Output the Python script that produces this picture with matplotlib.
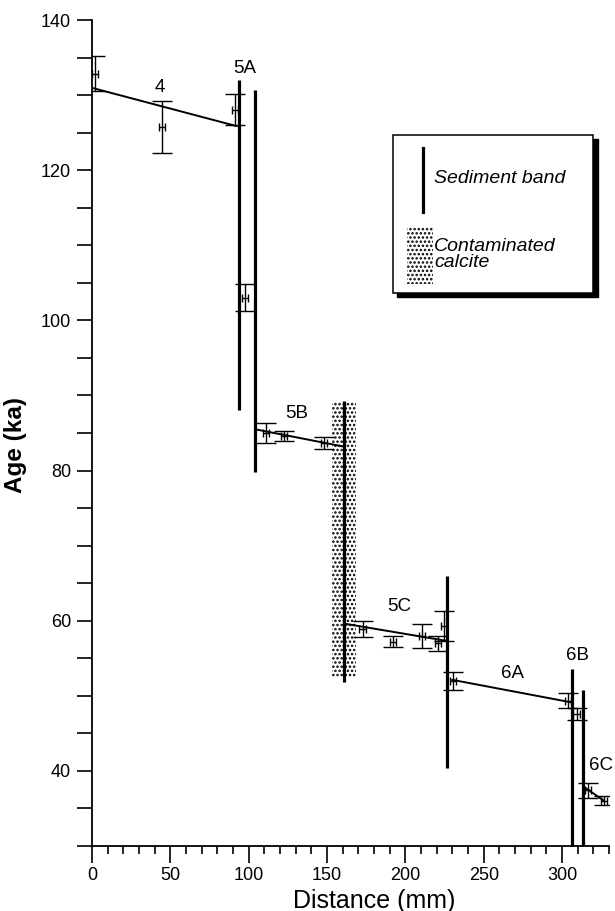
"""
Age vs distance along the speleothem, with sediment bands
and the contaminated calcite zone.
"""

import matplotlib

matplotlib.use("Agg")
import matplotlib.pyplot as plt
from matplotlib.patches import Rectangle
from matplotlib.ticker import MultipleLocator

plt.rcParams["font.family"] = ["Liberation Sans", "DejaVu Sans"]
plt.rcParams["hatch.linewidth"] = 1.2

# dated samples: distance (mm), age (ka), age error, distance error
dist = [2, 44.5, 91.3, 97.6, 111, 122.5, 148, 172.7, 192.3, 210.4, 221, 224.6,
        230.6, 303.6, 309.3, 316.7, 326.7]
age = [132.9, 125.8, 128.1, 103.0, 85.0, 84.6, 83.7, 58.9, 57.2, 58.0, 57.0, 59.3,
       52.0, 49.3, 47.6, 37.4, 36.0]
age_err = [2.3, 3.5, 2.1, 1.8, 1.3, 0.6, 0.8, 1.1, 0.7, 1.6, 1.0, 2.0,
           1.2, 1.0, 0.8, 1.0, 0.6]
dist_err = [2] * len(dist)

# growth-rate fits per growth phase: (x0, y0, x1, y1)
fit_x0 = [0, 104, 160.8, 230, 315.6]
fit_y0 = [131.0, 85.5, 59.6, 52.1, 37.6]
fit_x1 = [92.3, 160.4, 226.3, 306, 326.7]
fit_y1 = [125.9, 83.2, 57.3, 49.1, 36.0]

# sediment bands: distance, top age, bottom age
band_x = [93.8, 104, 160.8, 226.3, 306.3, 313.6]
band_top = [132.1, 130.7, 89.3, 65.9, 53.6, 50.7]
band_bot = [88.0, 79.8, 51.8, 40.4, 30, 30]

# contaminated calcite zone
calc_x = [153, 168.5]
calc_y = [52.5, 89.1]

# growth phase labels
phase_names = ["4", "5A", "5B", "5C", "6A", "6B", "6C"]
phase_x = [43.4, 97.6, 130.6, 196, 268.5, 310, 325]
phase_y = [131.0, 133.6, 87.6, 61.9, 52.9, 55.4, 40.7]

fig = plt.figure(figsize=(6.15, 9.11), dpi=100)
ax = fig.add_axes([0.1496, 0.0717, 0.8407, 0.906])

ax.set_xlim(0, 330)
ax.set_ylim(30, 140)
ax.spines["top"].set_visible(False)
ax.spines["right"].set_visible(False)
ax.spines["left"].set_linewidth(1.3)
ax.spines["bottom"].set_linewidth(1.3)

# contaminated calcite (stippled)
ax.add_patch(Rectangle((calc_x[0], calc_y[0]), calc_x[1] - calc_x[0], calc_y[1] - calc_y[0],
                       facecolor="white", edgecolor="black", lw=0, hatch="....", zorder=1))

# sediment bands
ax.vlines(band_x, band_bot, band_top, colors="black", lw=2.3, zorder=3, clip_on=False)

# fitted lines
for x0, y0, x1, y1 in zip(fit_x0, fit_y0, fit_x1, fit_y1):
    ax.plot([x0, x1], [y0, y1], color="black", lw=1.4, zorder=4)

# samples with error bars
ax.errorbar(dist, age, yerr=age_err, fmt="none", ecolor="black", elinewidth=1.0,
            capsize=7, capthick=1.0, zorder=5)
ax.errorbar(dist, age, xerr=dist_err, fmt="none", ecolor="black", elinewidth=1.0,
            capsize=3, capthick=1.0, zorder=5)

for name, x, y in zip(phase_names, phase_x, phase_y):
    ax.text(x, y, name, fontsize=13.5, ha="center", va="center", zorder=6)

# ticks
ax.set_yticks(range(40, 141, 20))
ax.yaxis.set_minor_locator(MultipleLocator(5))
ax.set_xticks(range(0, 301, 50))
ax.xaxis.set_minor_locator(MultipleLocator(10))
ax.tick_params(axis="y", which="both", direction="out", length=11, width=1.2,
               labelsize=13, pad=4)
ax.tick_params(axis="x", which="major", direction="out", length=12.5, width=1.2,
               labelsize=13, pad=3)
ax.tick_params(axis="x", which="minor", direction="out", length=6, width=1.2)

ax.set_xlabel("Distance (mm)", fontsize=18, labelpad=1)
ax.xaxis.set_label_coords(0.545, -0.052)
ax.set_ylabel("Age (ka)", fontsize=17.5, fontweight="bold")
ax.yaxis.set_label_coords(-0.125, 0.485)

# legend box with drop shadow
box_x0, box_x1 = 0.5816, 0.9696
box_y0, box_y1 = 0.6697, 0.8607
ax.add_patch(Rectangle((box_x0 + 0.0085, box_y0 - 0.005), box_x1 - box_x0, box_y1 - box_y0,
                       transform=ax.transAxes, facecolor="black", edgecolor="black",
                       lw=1, zorder=7))
ax.add_patch(Rectangle((box_x0, box_y0), box_x1 - box_x0, box_y1 - box_y0,
                       transform=ax.transAxes, facecolor="white", edgecolor="black",
                       lw=1.1, zorder=8))
ax.plot([0.6397, 0.6397], [0.7679, 0.845], transform=ax.transAxes, color="black",
        lw=2.3, zorder=9)
ax.text(0.6615, 0.8083, "Sediment band", transform=ax.transAxes, fontsize=14,
        style="italic", va="center", ha="left", zorder=9)
ax.add_patch(Rectangle((0.6087, 0.6811), 0.0503, 0.0686, transform=ax.transAxes,
                       facecolor="white", edgecolor="black", lw=0, hatch="....", zorder=9))
ax.text(0.6615, 0.7167, "Contaminated\ncalcite", transform=ax.transAxes, fontsize=14,
        style="italic", va="center", ha="left", linespacing=0.93, zorder=9)

fig.savefig("out.png", dpi=100)
